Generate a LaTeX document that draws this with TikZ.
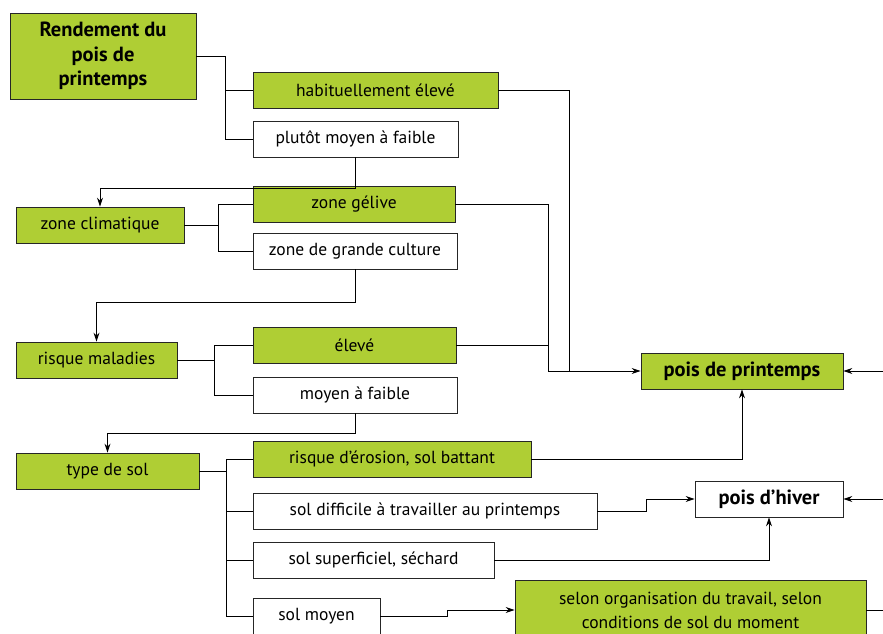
\documentclass[tikz,border=0pt]{standalone}
\usepackage{fontspec}
\setmainfont{PT Sans}
\usepackage{xcolor}
\usepackage{tikz}
\usetikzlibrary{arrows.meta}
\definecolor{peagreen}{RGB}{175,206,52}

\begin{document}
\begin{tikzpicture}[x=1pt, y=-1pt,
    every node/.style={font=\fontsize{17.5}{20}\selectfont, inner sep=0pt},
    greenbox/.style={draw=black!85, line width=0.8pt, fill=peagreen, minimum height=36pt},
    whitebox/.style={draw=black!85, line width=0.8pt, fill=white, minimum height=36pt},
    boldtext/.style={font=\bfseries\fontsize{20.5}{24.5}\selectfont},
    link/.style={line width=0.9pt},
    arrow/.style={link, -{Stealth[length=9pt, width=6pt, inset=3pt]}}]
    \useasboundingbox (0,0) rectangle (883,634);
    % Criteria
    \node[greenbox, boldtext, minimum width=186pt, minimum height=86pt, align=center] (rend) at (103,56) {Rendement du\\pois de\\printemps};
    \node[greenbox, minimum width=245pt] (habit) at (375.5,90) {habituellement élevé};
    \node[whitebox, minimum width=205pt] (plutot) at (355.5,139) {plutôt moyen à faible};
    \node[greenbox, minimum width=168pt] (zclim) at (100,225) {zone climatique};
    \node[greenbox, minimum width=202pt] (gelive) at (354,204) {zone gélive};
    \node[whitebox, minimum width=204pt] (grande) at (355,251) {zone de grande culture};
    \node[greenbox, minimum width=161pt] (rmal) at (96.5,360) {risque maladies};
    \node[greenbox, minimum width=203pt] (eleve) at (354.5,345) {élevé};
    \node[whitebox, minimum width=204pt] (moyfai) at (355,395) {moyen à faible};
    \node[greenbox, minimum width=183pt] (tsol) at (107.5,471) {type de sol};
    \node[greenbox, minimum width=278pt] (erosion) at (392,459) {risque d’érosion, sol battant};
    \node[whitebox, minimum width=344pt] (difficile) at (425,511) {sol difficile à travailler au printemps};
    \node[whitebox, minimum width=241pt] (superf) at (373.5,560) {sol superficiel, séchard};
    \node[whitebox, minimum width=127pt] (solmoy) at (316.5,616) {sol moyen};
    % Results
    \node[greenbox, boldtext, minimum width=202pt] (printemps) at (742,371) {pois de printemps};
    \node[whitebox, boldtext, minimum width=148pt] (hiver) at (769,499) {pois d’hiver};
    \node[greenbox, minimum width=351pt, minimum height=60pt, align=center,
          font=\fontsize{17.5}{24}\selectfont] (selon) at (690.5,610) {selon organisation du travail, selon\\conditions de sol du moment};
    % Junctions
    \coordinate (j1) at (225,0);
    \coordinate (j2) at (218,0);
    \coordinate (j3) at (214,0);
    \coordinate (j4) at (226,0);
    \coordinate (jp) at (548,371);
    \coordinate (jq) at (569,371);
    \coordinate (ep) at (883,371);
    \coordinate (eh) at (883,499);
    \coordinate (es) at (883,610);
    % Tree
    \draw[link] (rend.east) -- (rend.east -| j1) |- (plutot.west);
    \draw[link] (j1 |- habit.west) -- (habit.west);
    \draw[arrow] (plutot.south) -- ++(0,31) -| (zclim.north);
    \draw[link] (zclim.east) -- (zclim.east -| j2) |- (gelive.west);
    \draw[link] (j2 |- zclim.east) |- (grande.west);
    \draw[arrow] (grande.south) -- ++(0,33) -| (rmal.north);
    \draw[link] (rmal.east) -- (rmal.east -| j3) |- (eleve.west);
    \draw[link] (j3 |- rmal.east) |- (moyfai.west);
    \draw[arrow] (moyfai.south) -- ++(0,20) -| (tsol.north);
    \draw[link] (tsol.east) -- (tsol.east -| j4) |- (erosion.west);
    \draw[link] (j4 |- erosion.west) |- (solmoy.west);
    \draw[link] (j4 |- difficile.west) -- (difficile.west);
    \draw[link] (j4 |- superf.west) -- (superf.west);
    % Outcomes
    \draw[link] (habit.east) -| (jq);
    \draw[link] (gelive.east) -| (jp);
    \draw[link] (eleve.east) -| (jp);
    \draw[arrow] (jp) -- (printemps.west);
    \draw[arrow] (erosion.east) -| (printemps.south);
    \draw[arrow] (ep) -- (printemps.east);
    \draw[arrow] (difficile.east) -- ++(49,0) |- (hiver.west);
    \draw[arrow] (superf.east) -| (hiver.south);
    \draw[arrow] (eh) -- (hiver.east);
    \draw[arrow] (solmoy.east) -- ++(67,0) |- (selon.west);
    \draw[link] (selon.east) -- (es);
\end{tikzpicture}
\end{document}
